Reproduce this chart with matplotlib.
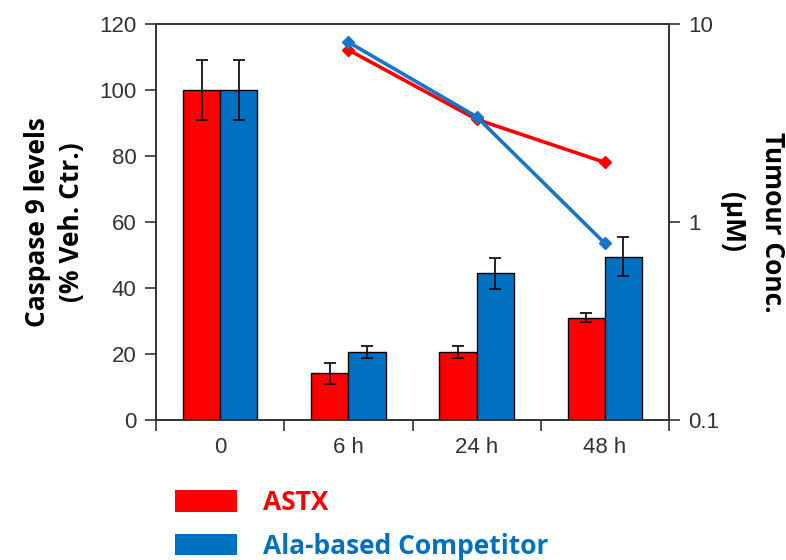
import matplotlib
matplotlib.use("Agg")
import matplotlib.pyplot as plt
from matplotlib.patches import Patch
from matplotlib.ticker import FixedLocator, NullLocator
import numpy as np

categories = ["0", "6 h", "24 h", "48 h"]
astx_caspase = [100, 14.2, 20.5, 31.0]
astx_err = [9, 3.2, 1.8, 1.3]
comp_caspase = [100, 20.5, 44.4, 49.5]
comp_err = [9, 1.8, 4.8, 6.0]

line_cats = [1, 2, 3]  # indices of 6 h, 24 h, 48 h
astx_conc = [7.4, 3.3, 2.0]
comp_conc = [8.1, 3.4, 0.78]

series_names = ["ASTX", "Ala-based Competitor"]

RED = "#FF0000"
BLUE = "#0070C0"
TICKC = "#333333"

fig = plt.figure(figsize=(7.86, 5.6), dpi=100)
ax = fig.add_axes([156/786, 1-420/560, (669-156)/786, (420-24)/560])

x = np.arange(len(categories))
w = 0.29
ax.bar(x - w/2, astx_caspase, w, color=RED, edgecolor="black", linewidth=1.0,
       yerr=astx_err, error_kw=dict(ecolor="black", elinewidth=1.2, capsize=4, capthick=1.2), zorder=2)
ax.bar(x + w/2, comp_caspase, w, color=BLUE, edgecolor="black", linewidth=1.0,
       yerr=comp_err, error_kw=dict(ecolor="black", elinewidth=1.2, capsize=4, capthick=1.2), zorder=2)

ax.set_xlim(-0.5, len(categories) - 0.5)
ax.set_ylim(0, 120)
ax.set_yticks(np.arange(0, 121, 20))
ax.xaxis.set_major_locator(FixedLocator(np.arange(-0.5, len(categories), 1.0)))
ax.xaxis.set_minor_locator(FixedLocator(x))
ax.set_xticklabels([])
ax.set_xticklabels(categories, minor=True)
ax.tick_params(axis="x", which="minor", length=0, pad=12, labelsize=16, labelcolor=TICKC, labelfontfamily="Liberation Sans")
ax.tick_params(axis="x", which="major", length=8, width=1.2, color="#333333")
ax.tick_params(axis="y", length=8, width=1.2, color="#333333", labelsize=16, labelcolor=TICKC, pad=6)
for lab in ax.get_yticklabels():
    lab.set_fontfamily("Liberation Sans")
for s in ax.spines.values():
    s.set_linewidth(1.2)
    s.set_color("#333333")

ax.set_ylabel("Caspase 9 levels\n(% Veh. Ctr.)", fontsize=19, fontweight="bold",
              fontfamily="Open Sans", linespacing=1.37, labelpad=10)

ax2 = ax.twinx()
ax2.set_yscale("log")
ax2.set_ylim(0.1, 10)
ax2.yaxis.set_major_locator(FixedLocator([0.1, 1, 10]))
ax2.yaxis.set_minor_locator(NullLocator())
ax2.set_yticklabels(["0.1", "1", "10"])
ax2.tick_params(axis="y", length=8, width=1.2, color="#333333", labelsize=16, labelcolor=TICKC, pad=6)
for lab in ax2.get_yticklabels():
    lab.set_fontfamily("Liberation Sans")
for s in ax2.spines.values():
    s.set_linewidth(1.2)
    s.set_color("#333333")

ax2.plot(line_cats, astx_conc, color=RED, lw=2.6, marker="D", markersize=6, zorder=3)
ax2.plot(line_cats, comp_conc, color="#1A75C8", lw=2.6, marker="D", markersize=6, zorder=4)
ax2.set_ylabel("Tumour Conc.\n(μM)", fontsize=19, fontweight="bold", fontfamily="Open Sans",
               rotation=-90, linespacing=1.62, labelpad=48)

handles = [Patch(facecolor=RED, edgecolor="none"), Patch(facecolor=BLUE, edgecolor="none")]
leg = fig.legend(handles, series_names, loc="upper left", bbox_to_anchor=(175/786, 1-489/560),
                 frameon=False, borderpad=0, borderaxespad=0,
                 handlelength=2.35, handleheight=0.87, handletextpad=1.0,
                 labelspacing=0.63, prop=dict(family="Open Sans", weight="bold", size=19))
for t, c in zip(leg.get_texts(), [RED, BLUE]):
    t.set_color(c)

fig.savefig("out.png", dpi=100)
